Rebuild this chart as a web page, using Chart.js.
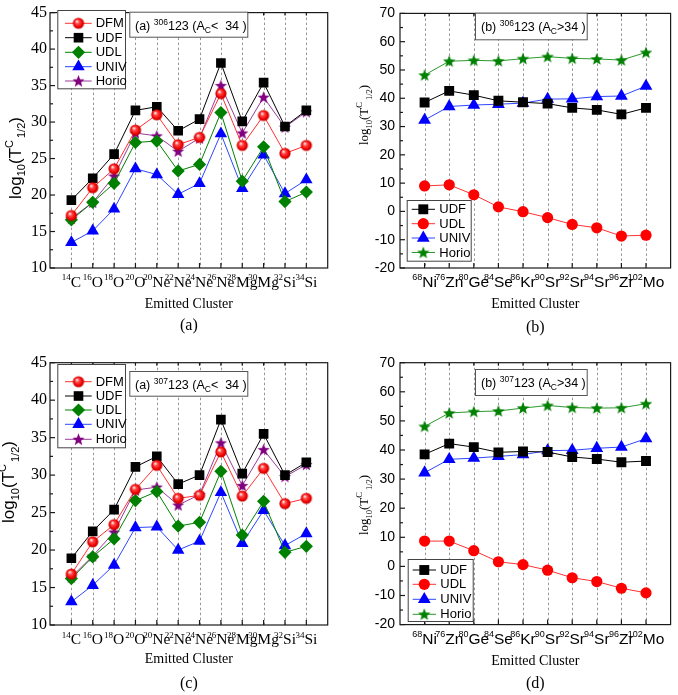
<!DOCTYPE html>
<html>
<head>
<meta charset="utf-8">
<script src="https://cdn.jsdelivr.net/npm/chart.js@4.4.1/dist/chart.umd.min.js"></script>
<style>
  body { margin: 0; background: #fff; width: 678px; height: 695px; position: relative; overflow: hidden; }
  canvas { position: absolute; }
</style>
</head>
<body>
<canvas id="pa" width="339" height="345" style="left:0;top:0"></canvas>
<canvas id="pb" width="339" height="345" style="left:339px;top:0"></canvas>
<canvas id="pc" width="339" height="350" style="left:0;top:345px"></canvas>
<canvas id="pd" width="339" height="350" style="left:339px;top:345px"></canvas>
<script>
// clusters (mass number + symbol)
const lightMass = [14, 16, 18, 20, 20, 22, 24, 26, 28, 30, 32, 34];
const lightSym = ['C', 'O', 'O', 'O', 'Ne', 'Ne', 'Ne', 'Ne', 'Mg', 'Mg', 'Si', 'Si'];
const heavyMass = [68, 76, 80, 84, 86, 90, 92, 94, 96, 102];
const heavySym = ['Ni', 'Zn', 'Ge', 'Se', 'Kr', 'Sr', 'Sr', 'Sr', 'Zr', 'Mo'];

// (a) 306-123, Ac < 34
const a_DFM   = [17.2, 21.0, 23.6, 28.9, 31.0, 26.9, 27.9, 33.9, 26.8, 30.9, 25.7, 26.8];
const a_UDF   = [19.3, 22.3, 25.6, 31.6, 32.1, 28.8, 30.4, 38.1, 30.1, 35.4, 29.4, 31.6];
const a_UDL   = [16.6, 19.0, 21.6, 27.2, 27.4, 23.3, 24.2, 31.3, 21.9, 26.6, 19.1, 20.4];
const a_UNIV  = [13.5, 15.1, 18.1, 23.6, 22.8, 20.1, 21.6, 28.4, 20.9, 25.5, 20.2, 22.1];
const a_Horio = [16.8, 19.0, 22.6, 28.5, 28.1, 26.0, 27.8, 35.0, 28.5, 33.4, 29.3, 31.4];

// (b) 306-123, Ac > 34
const b_UDF   = [38.5, 42.6, 41.1, 39.1, 38.6, 38.1, 36.6, 35.9, 34.3, 36.6];
const b_UDL   = [9.0, 9.4, 5.9, 1.6, -0.1, -2.2, -4.6, -5.8, -8.7, -8.4];
const b_UNIV  = [32.3, 37.1, 37.6, 37.9, 38.3, 39.7, 39.8, 40.6, 40.8, 44.3];
const b_Horio = [48.2, 53.1, 53.4, 53.2, 54.0, 54.7, 54.1, 53.9, 53.5, 56.2];

// (c) 307-123, Ac < 34
const c_DFM   = [16.8, 21.1, 23.4, 28.1, 31.3, 26.9, 27.3, 33.1, 27.2, 30.9, 26.2, 26.9];
const c_UDF   = [18.9, 22.5, 25.4, 31.1, 32.5, 28.8, 30.0, 37.4, 30.2, 35.5, 30.0, 31.7];
const c_UDL   = [16.2, 19.1, 21.5, 26.6, 27.8, 23.2, 23.7, 30.5, 22.0, 26.5, 19.7, 20.5];
const c_UNIV  = [13.1, 15.3, 18.0, 23.0, 23.1, 20.0, 21.2, 27.7, 20.9, 25.3, 20.6, 22.2];
const c_Horio = [16.4, 19.2, 22.4, 28.0, 28.4, 26.0, 27.4, 34.3, 28.6, 33.4, 29.8, 31.4];

// (d) 307-123, Ac > 34
const d_UDF   = [38.5, 42.2, 41.0, 39.2, 39.5, 39.3, 37.6, 36.9, 35.8, 36.2];
const d_UDL   = [8.7, 8.7, 5.4, 1.6, 0.6, -1.3, -3.9, -5.2, -7.5, -9.1];
const d_UNIV  = [32.2, 36.8, 37.2, 37.8, 38.4, 39.8, 39.9, 40.6, 41.0, 43.9];
const d_Horio = [48.1, 52.7, 53.2, 53.4, 54.4, 55.3, 54.6, 54.4, 54.5, 55.9];

const SANS = '"Liberation Sans", Arial, sans-serif';
const SERIF = '"Liberation Serif", "Times New Roman", serif';

// marker images
function sphereImg(R) {
  const c = document.createElement('canvas');
  const s = Math.ceil(2 * R + 2);
  c.width = c.height = s;
  const g = c.getContext('2d');
  const cx = s / 2;
  const grad = g.createRadialGradient(cx - R * 0.3, cx - R * 0.35, 0.4, cx, cx, R);
  grad.addColorStop(0, '#fff0f0');
  grad.addColorStop(0.3, '#ff4a4a');
  grad.addColorStop(0.75, '#f00000');
  grad.addColorStop(1, '#b80000');
  g.fillStyle = grad;
  g.beginPath();
  g.arc(cx, cx, R, 0, Math.PI * 2);
  g.fill();
  return c;
}
function starImg(color, R) {
  const c = document.createElement('canvas');
  const s = Math.ceil(2 * R + 2);
  c.width = c.height = s;
  const g = c.getContext('2d');
  const cx = s / 2, cy = s / 2 + R * 0.08;
  g.beginPath();
  for (let k = 0; k < 10; k++) {
    const ang = -Math.PI / 2 + k * Math.PI / 5;
    const r = k % 2 ? R * 0.42 : R;
    const px = cx + Math.cos(ang) * r, py = cy + Math.sin(ang) * r;
    if (k === 0) g.moveTo(px, py); else g.lineTo(px, py);
  }
  g.closePath();
  g.fillStyle = color;
  g.fill();
  return c;
}

const lightStyles = {
  DFM:   { point: sphereImg(5.6), r: 5.6, fill: '#ff0000', line: '#ff3030' },
  UDF:   { point: 'rect', r: 6.8, fill: '#000000', line: '#000000' },
  UDL:   { point: 'rectRot', r: 6.6, fill: '#008000', line: '#008000' },
  UNIV:  { point: 'triangle', r: 7.2, fill: '#0000ff', line: '#2d46ff' },
  Horio: { point: starImg('#800080', 6.4), r: 6.4, fill: '#800080', line: '#9a3c9a' }
};
const heavyStyles = {
  UDF:   { point: 'rect', r: 7, fill: '#000000', line: '#000000' },
  UDL:   { point: 'circle', r: 5.6, fill: '#ff0000', line: '#ff3030' },
  UNIV:  { point: 'triangle', r: 7.4, fill: '#0000ff', line: '#2d46ff' },
  Horio: { point: starImg('#008000', 6.6), r: 6.6, fill: '#008000', line: '#2a9a2a' }
};

function drawMarker(ctx, st, x, y) {
  ctx.save();
  if (typeof st.point !== 'string') {
    ctx.drawImage(st.point, x - st.point.width / 2, y - st.point.height / 2);
    ctx.restore();
    return;
  }
  const r = st.r;
  ctx.fillStyle = st.fill;
  ctx.beginPath();
  if (st.point === 'circle') {
    ctx.arc(x, y, r, 0, Math.PI * 2);
  } else if (st.point === 'rect') {
    const h = r * Math.SQRT1_2;
    ctx.rect(x - h, y - h, 2 * h, 2 * h);
  } else if (st.point === 'rectRot') {
    ctx.moveTo(x, y - r); ctx.lineTo(x + r, y); ctx.lineTo(x, y + r); ctx.lineTo(x - r, y);
  } else if (st.point === 'triangle') {
    for (let k = 0; k < 3; k++) {
      const a = k * 2 * Math.PI / 3;
      const px = x + Math.sin(a) * r, py = y - Math.cos(a) * r;
      if (k === 0) ctx.moveTo(px, py); else ctx.lineTo(px, py);
    }
  }
  ctx.closePath();
  ctx.fill();
  ctx.restore();
}

// text made of pieces with their own font and vertical shift
function richWidth(ctx, parts) {
  let w = 0;
  parts.forEach(p => { ctx.font = p.f; w += ctx.measureText(p.t).width + (p.gap || 0); });
  return w;
}
function drawRich(ctx, parts, x, y) {
  let cx = x;
  ctx.textBaseline = 'alphabetic';
  ctx.textAlign = 'left';
  parts.forEach(p => {
    ctx.font = p.f;
    cx += (p.gap || 0);
    ctx.fillText(p.t, cx, y + (p.dy || 0));
    cx += ctx.measureText(p.t).width;
  });
}

function yTitleParts(family, big, small) {
  return [
    { t: 'log', f: big + 'px ' + family },
    { t: '10', f: small + 'px ' + family, dy: small * 0.45 },
    { t: '(T', f: big + 'px ' + family },
    { t: 'C', f: small + 'px ' + family, dy: -big * 0.45 },
    { t: '1/2', f: small + 'px ' + family, dy: small * 0.45, gap: 2 },
    { t: ')', f: big + 'px ' + family }
  ];
}

const panels = [
  {
    id: 'pa', yW: 50, padTop: 6, padRight: 11.3, xH: 77,
    mass: lightMass, sym: lightSym, styles: lightStyles,
    yMin: 10, yMax: 45, yStep: 5, tickFont: { family: SERIF, size: 16 }, tickPad: 3,
    series: [['DFM', a_DFM], ['UDF', a_UDF], ['UDL', a_UDL], ['UNIV', a_UNIV], ['Horio', a_Horio]],
    labFamily: SERIF, labBase: 286.7,
    legend: { x: 57.3, y: 10, w: 67.7, h: 78.3, ys: [23.3, 37.7, 52.3, 66.7, 81], lx0: 65, lx1: 91.7, mx: 78.5, tx: 95.7 },
    annot: { x: 129.3, y: 11.7, w: 118, h: 25, tx: 135, ty: 29.5, text: ['(a) ', '306', '123 (A', 'C', '<  34 )'] },
    xtitleY: 308.3, tag: '(a)', tagY: 330,
    ytitle: { family: SANS, big: 17, small: 11, x: 20.5, y: 158 }
  },
  {
    id: 'pb', yW: 61, padTop: 6, padRight: 0.3, xH: 77,
    mass: heavyMass, sym: heavySym, styles: heavyStyles,
    yMin: -20, yMax: 70, yStep: 10, tickFont: { family: SANS, size: 14 }, tickPad: 5,
    series: [['UDF', b_UDF], ['UDL', b_UDL], ['UNIV', b_UNIV], ['Horio', b_Horio]],
    labFamily: SANS, labBase: 286.7,
    legend: { x: 67.7, y: 200, w: 64, h: 60.7, ys: [209.3, 223.7, 238, 252.5], lx0: 72.7, lx1: 96, mx: 84.3, tx: 100.3 },
    annot: { x: 136, y: 12.7, w: 111.7, h: 26.6, tx: 142, ty: 31, text: ['(b) ', '306', '123 (A', 'C', '>34 )'] },
    xtitleY: 308.3, tag: '(b)', tagY: 331.7,
    ytitle: { family: SERIF, big: 13, small: 8.5, x: 29, y: 115 }
  },
  {
    id: 'pc', yW: 50, padTop: 17.7, padRight: 11.3, xH: 70,
    mass: lightMass, sym: lightSym, styles: lightStyles,
    yMin: 10, yMax: 45, yStep: 5, tickFont: { family: SERIF, size: 16 }, tickPad: 3,
    series: [['DFM', c_DFM], ['UDF', c_UDF], ['UDL', c_UDL], ['UNIV', c_UNIV], ['Horio', c_Horio]],
    labFamily: SERIF, labBase: 299,
    legend: { x: 57.3, y: 19, w: 67.7, h: 83.3, ys: [36.7, 51, 65, 79.3, 94.3], lx0: 65, lx1: 91.7, mx: 78.5, tx: 95.7 },
    annot: { x: 129.3, y: 26, w: 118, h: 24.7, tx: 135, ty: 43.5, text: ['(a) ', '307', '123 (A', 'C', '<  34 )'] },
    xtitleY: 318.3, tag: '(c)', tagY: 343.3,
    ytitle: { family: SANS, big: 17, small: 11, x: 14, y: 137 }
  },
  {
    id: 'pd', yW: 61, padTop: 17.7, padRight: 0.3, xH: 70.4,
    mass: heavyMass, sym: heavySym, styles: heavyStyles,
    yMin: -20, yMax: 70, yStep: 10, tickFont: { family: SANS, size: 14 }, tickPad: 5,
    series: [['UDF', d_UDF], ['UDL', d_UDL], ['UNIV', d_UNIV], ['Horio', d_Horio]],
    labFamily: SANS, labBase: 298.7,
    legend: { x: 68.7, y: 214, w: 65, h: 62, ys: [225, 239.3, 254.3, 269.3], lx0: 73.7, lx1: 97, mx: 85.3, tx: 101.3 },
    annot: { x: 136, y: 24, w: 111.7, h: 26, tx: 142, ty: 42, text: ['(b) ', '307', '123 (A', 'C', '>34 )'] },
    xtitleY: 320, tag: '(d)', tagY: 343.3,
    ytitle: { family: SERIF, big: 13, small: 8.5, x: 29, y: 160 }
  }
];

function makePanel(p) {
  const N = p.mass.length;

  const decor = {
    id: 'decor',
    beforeDatasetsDraw(chart) {
      const { ctx, chartArea: { top, bottom } } = chart;
      const xs = chart.scales.x;
      ctx.save();
      ctx.strokeStyle = '#7a7a7a';
      ctx.lineWidth = 0.8;
      ctx.setLineDash([2.5, 2.5]);
      for (let i = 1; i <= N; i++) {
        const x = Math.round(xs.getPixelForValue(i)) + 0.5;
        ctx.beginPath();
        ctx.moveTo(x, top);
        ctx.lineTo(x, bottom);
        ctx.stroke();
      }
      ctx.restore();
    },
    afterDraw(chart) {
      const { ctx, chartArea: { left, right, top, bottom, width } } = chart;
      const xs = chart.scales.x, ys = chart.scales.y;
      ctx.save();
      ctx.setLineDash([]);
      ctx.strokeStyle = '#1a1a1a';
      ctx.lineWidth = 1.2;

      // inward ticks: left axis major + minor
      for (let v = p.yMin; v <= p.yMax; v += p.yStep / 2) {
        const y = ys.getPixelForValue(v);
        const major = Math.abs((v - p.yMin) % p.yStep) < 1e-6;
        ctx.beginPath();
        ctx.moveTo(left, y);
        ctx.lineTo(left + (major ? 5 : 3), y);
        ctx.stroke();
      }
      // category ticks on bottom and top
      for (let i = 1; i <= N; i++) {
        const x = xs.getPixelForValue(i);
        ctx.beginPath();
        ctx.moveTo(x, bottom); ctx.lineTo(x, bottom - 5);
        ctx.moveTo(x, top); ctx.lineTo(x, top + 3);
        ctx.stroke();
      }
      ctx.strokeRect(left, top, right - left, bottom - top);

      // legend
      const L = p.legend;
      ctx.fillStyle = '#fff';
      ctx.fillRect(L.x, L.y, L.w, L.h);
      ctx.lineWidth = 1;
      ctx.strokeStyle = '#444';
      ctx.strokeRect(L.x + 0.5, L.y + 0.5, L.w, L.h);
      p.series.forEach((s, i) => {
        const st = p.styles[s[0]];
        const y = L.ys[i];
        ctx.strokeStyle = st.line;
        ctx.lineWidth = 1;
        ctx.beginPath();
        ctx.moveTo(L.lx0, y); ctx.lineTo(L.lx1, y);
        ctx.stroke();
        drawMarker(ctx, st, L.mx, y);
        ctx.fillStyle = '#000';
        ctx.font = '13px ' + SANS;
        ctx.textAlign = 'left';
        ctx.textBaseline = 'middle';
        ctx.fillText(s[0], L.tx, y + 0.5);
      });

      // annotation box
      const A = p.annot;
      ctx.fillStyle = '#fff';
      ctx.fillRect(A.x, A.y, A.w, A.h);
      ctx.strokeStyle = '#555';
      ctx.lineWidth = 1;
      ctx.strokeRect(A.x + 0.5, A.y + 0.5, A.w, A.h);
      ctx.fillStyle = '#000';
      drawRich(ctx, [
        { t: A.text[0], f: '12.5px ' + SANS },
        { t: A.text[1], f: '8.5px ' + SANS, dy: -5 },
        { t: A.text[2], f: '12.5px ' + SANS },
        { t: A.text[3], f: '8.5px ' + SANS, dy: 3 },
        { t: A.text[4], f: '12.5px ' + SANS }
      ], A.tx, A.ty);

      // category labels with mass number as superscript
      ctx.fillStyle = '#000';
      for (let i = 0; i < N; i++) {
        const x = xs.getPixelForValue(i + 1);
        const parts = [
          { t: String(p.mass[i]), f: '9px ' + p.labFamily, dy: -6.5 },
          { t: p.sym[i], f: '15.5px ' + p.labFamily }
        ];
        const w = richWidth(ctx, parts);
        drawRich(ctx, parts, x - w / 2, p.labBase);
      }

      // axis titles
      const cxm = (left + right) / 2;
      ctx.font = '14px ' + SERIF;
      ctx.textAlign = 'center';
      ctx.textBaseline = 'alphabetic';
      ctx.fillText('Emitted Cluster', cxm, p.xtitleY);
      ctx.font = '16px ' + SERIF;
      ctx.fillText(p.tag, cxm, p.tagY);

      const T = p.ytitle;
      const tp = yTitleParts(T.family, T.big, T.small);
      ctx.translate(T.x, T.y);
      ctx.rotate(-Math.PI / 2);
      const tw = richWidth(ctx, tp);
      drawRich(ctx, tp, -tw / 2, 0);
      ctx.restore();
    }
  };

  const datasets = p.series.map(s => {
    const st = p.styles[s[0]];
    return {
      label: s[0],
      data: s[1].map((v, i) => ({ x: i + 1, y: v })),
      borderColor: st.line,
      borderWidth: 1,
      backgroundColor: st.fill,
      pointStyle: st.point,
      pointRadius: st.r,
      pointBorderColor: st.fill,
      pointBorderWidth: 0,
      pointBackgroundColor: st.fill,
      tension: 0,
      fill: false
    };
  });

  new Chart(document.getElementById(p.id), {
    type: 'line',
    data: { datasets },
    options: {
      responsive: false,
      animation: false,
      events: [],
      layout: { padding: { top: p.padTop, right: p.padRight, left: 0, bottom: 0 } },
      plugins: { legend: { display: false }, tooltip: { enabled: false } },
      scales: {
        x: {
          type: 'linear', min: 0, max: N + 1,
          ticks: { display: false, stepSize: 1 },
          grid: { display: false },
          border: { display: false },
          afterFit: s => { s.height = p.xH; }
        },
        y: {
          min: p.yMin, max: p.yMax,
          ticks: { stepSize: p.yStep, font: p.tickFont, color: '#000', padding: p.tickPad },
          grid: { display: false, drawTicks: false },
          border: { display: false },
          afterFit: s => { s.width = p.yW; }
        }
      }
    },
    plugins: [decor]
  });
}

panels.forEach(makePanel);
</script>
</body>
</html>
